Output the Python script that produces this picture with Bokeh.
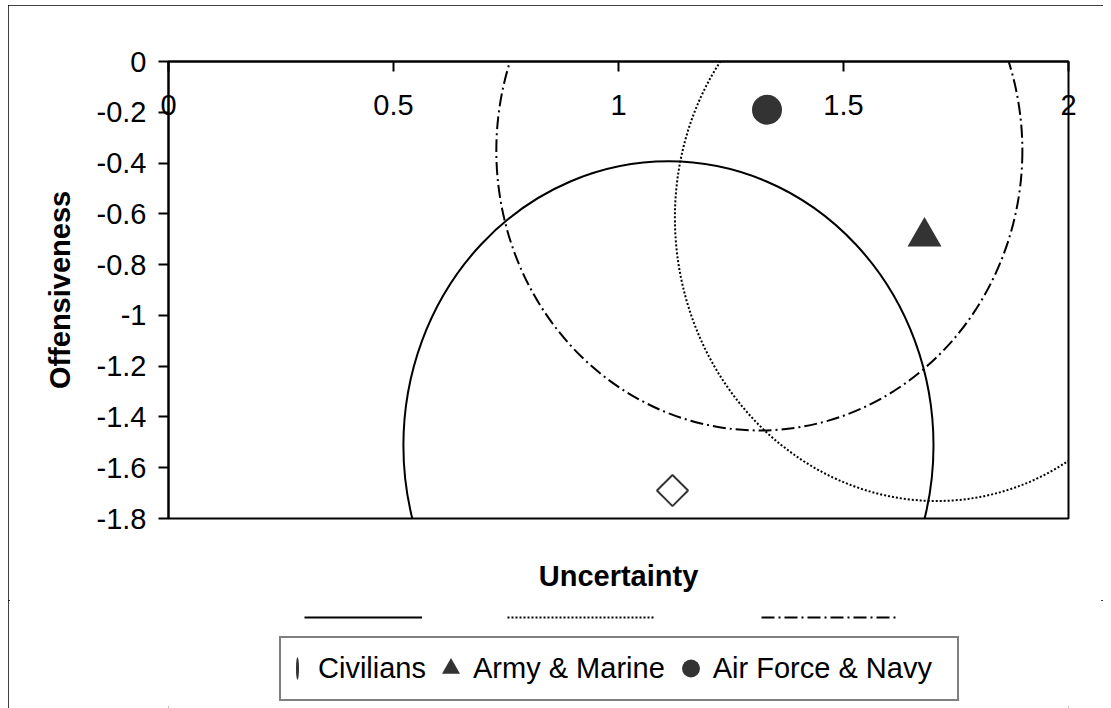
import math
from bokeh.plotting import figure
from bokeh.layouts import column
from bokeh.models import Range1d, FixedTicker, LinearAxis, Legend, LegendItem
from bokeh.embed import file_html
from bokeh.resources import INLINE

# ---------------- data ----------------
groups = ["Civilians", "Army & Marine", "Air Force & Navy"]
uncertainty = [1.12, 1.68, 1.33]
offensiveness = [-1.69, -0.69, -0.19]

# ellipses (one per group): centre, full width / height (data units), tilt
ell_x = [1.111, 1.693, 1.313]
ell_y = [-1.512, -0.642, -0.351]
ell_w = [1.178, 1.133, 1.169]
ell_h = [2.238, 2.182, 2.205]
ell_angle = [0.0, 0.15, 0.0]

x_ticks = [0, 0.5, 1, 1.5, 2]
x_tick_labels = ["0", "0.5", "1", "1.5", "2"]
y_ticks = [0, -0.2, -0.4, -0.6, -0.8, -1, -1.2, -1.4, -1.6, -1.8]
y_tick_labels = ["0", "-0.2", "-0.4", "-0.6", "-0.8", "-1", "-1.2", "-1.4", "-1.6", "-1.8"]

x_title = "Uncertainty"
y_title = "Offensiveness"

# ---------------- styles ----------------
FONT = "Liberation Sans"
FS = "29px"
MARK = "#333333"
line_dashes = ["solid", "2 2", "13 4 2 4"]
line_widths = [2, 2, 2]
NAN = float("nan")

# ================= main chart =================
p = figure(width=1095, height=595,
           x_range=Range1d(0, 2), y_range=Range1d(-1.8, 0),
           x_axis_location="above",
           output_backend="svg", toolbar_location=None,
           min_border_left=160, min_border_top=56,
           min_border_right=35, min_border_bottom=82,
           background_fill_color="white", border_fill_color="white",
           outline_line_color="black", outline_line_width=2)
p.grid.visible = False

xa = p.xaxis[0]
xa.ticker = FixedTicker(ticks=x_ticks)
xa.major_label_overrides = dict(zip(x_ticks, x_tick_labels))
xa.major_tick_in = 10
xa.major_tick_out = 0
xa.minor_tick_line_color = None
xa.major_tick_line_width = 2
xa.major_tick_line_color = "black"
xa.axis_line_width = 2
xa.axis_line_color = "black"
xa.major_label_standoff = -53
xa.major_label_text_font = FONT
xa.major_label_text_font_size = FS
xa.major_label_text_color = "black"

ya = p.yaxis[0]
ya.ticker = FixedTicker(ticks=y_ticks)
ya.major_label_overrides = dict(zip(y_ticks, y_tick_labels))
ya.major_tick_in = 0
ya.major_tick_out = 10
ya.minor_tick_line_color = None
ya.major_tick_line_width = 2
ya.major_tick_line_color = "black"
ya.axis_line_width = 2
ya.axis_line_color = "black"
ya.major_label_standoff = 12
ya.major_label_text_font = FONT
ya.major_label_text_font_size = FS
ya.major_label_text_color = "black"
ya.axis_label = y_title
ya.axis_label_text_font = FONT
ya.axis_label_text_font_size = FS
ya.axis_label_text_font_style = "bold"
ya.axis_label_text_color = "black"
ya.axis_label_standoff = 18

xt = LinearAxis(ticker=FixedTicker(ticks=[]), axis_label=x_title,
                axis_line_color=None, major_tick_line_color=None,
                minor_tick_line_color=None, axis_label_standoff=41,
                axis_label_text_font=FONT, axis_label_text_font_size=FS,
                axis_label_text_font_style="bold", axis_label_text_color="black")
p.add_layout(xt, "below")

# ellipses
for i in range(len(groups)):
    p.ellipse(x=ell_x[i], y=ell_y[i], width=ell_w[i], height=ell_h[i],
              angle=ell_angle[i], fill_color=None, line_color="black",
              line_width=line_widths[i], line_dash=line_dashes[i])

# group means
p.scatter(x=[uncertainty[0]], y=[offensiveness[0]], marker="square",
          angle=math.pi / 4, size=22, fill_color=None,
          line_color=MARK, line_width=2)
p.scatter(x=[uncertainty[1]], y=[offensiveness[1]], marker="triangle",
          size=34, fill_color=MARK, line_color=None)
p.scatter(x=[uncertainty[2]], y=[offensiveness[2]], marker="circle",
          size=30, fill_color=MARK, line_color=None)

# ================= legend strip =================
q = figure(width=1095, height=108, x_range=Range1d(0, 1), y_range=Range1d(0, 1),
           x_axis_location=None, y_axis_location=None,
           output_backend="svg", toolbar_location=None,
           min_border_left=160, min_border_right=35,
           min_border_top=0, min_border_bottom=0,
           background_fill_color="white", border_fill_color="white",
           outline_line_color=None)
q.grid.visible = False

# legend-only renderers (NaN data: nothing drawn in the strip itself)
dummy_lines = [q.line(x=[NAN, NAN], y=[NAN, NAN], line_color="black",
                      line_width=line_widths[i], line_dash=line_dashes[i])
               for i in range(3)]
dummy_box = q.line(x=[NAN, NAN], y=[NAN, NAN], line_alpha=0)
d_civ = q.ellipse(x=[NAN], y=[NAN], width=3, height=22,
                  width_units="screen", height_units="screen",
                  fill_color=MARK, line_color=None)
d_army = q.scatter(x=[NAN], y=[NAN], marker="triangle", fill_color=MARK, line_color=None)
d_air = q.scatter(x=[NAN], y=[NAN], marker="circle", fill_color=MARK, line_color=None)

common = dict(margin=0, border_line_color=None,
              background_fill_alpha=0, label_text_font=FONT)

# line samples row (x offsets from the frame's left edge)
line_starts = [136, 339, 593]
line_lens = [118, 147, 136]
for i in range(3):
    lg = Legend(items=[LegendItem(label=" ", renderers=[dummy_lines[i]])],
                location=(line_starts[i], 89), glyph_width=line_lens[i],
                glyph_height=4, padding=0, label_standoff=0, label_width=0,
                label_height=0, label_text_font_size="1px", **common)
    q.add_layout(lg, "center")

# legend box
box = Legend(items=[LegendItem(label=" ", renderers=[dummy_box])],
             location=(111, 7), glyph_width=676, glyph_height=61,
             label_standoff=0, label_width=0, label_height=0,
             label_text_font_size="1px", padding=0, margin=0,
             border_line_color="black", border_line_width=2,
             background_fill_color="white", background_fill_alpha=1)
q.add_layout(box, "center")

civ_lg = Legend(items=[LegendItem(label=groups[0], renderers=[d_civ])],
                location=(115, 15), padding=0,
                glyph_width=28, glyph_height=50, label_standoff=7,
                label_text_font_size=FS, label_text_color="black", **common)
q.add_layout(civ_lg, "center")

mk = Legend(items=[LegendItem(label=groups[1], renderers=[d_army]),
                   LegendItem(label=groups[2], renderers=[d_air])],
            location=(260, 15), orientation="horizontal", padding=0,
            glyph_width=45, glyph_height=50, label_standoff=0, spacing=3,
            label_text_font_size=FS, label_text_color="black", **common)
q.add_layout(mk, "center")

layout = column(p, q, spacing=0)
layout.styles = {"margin-left": "8px", "margin-top": "5px",
                 "outline": "2px solid black", "outline-offset": "-2px"}

open("out.html", "w").write(file_html(layout, INLINE))
